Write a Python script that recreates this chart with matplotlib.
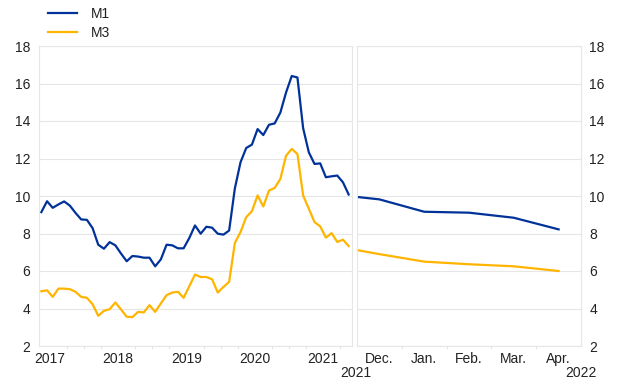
import matplotlib
matplotlib.use("Agg")
import matplotlib.pyplot as plt

plt.rcParams['font.family'] = ['Liberation Sans', 'DejaVu Sans']

# monthly history, May 2017 - Nov 2021 (annual % change)
m1_hist = [9.14, 9.72, 9.37, 9.55, 9.71, 9.49, 9.10, 8.75,
           8.73, 8.29, 7.40, 7.19, 7.54, 7.37, 6.93, 6.52, 6.80, 6.77, 6.71, 6.71,
           6.25, 6.62, 7.40, 7.37, 7.21, 7.21, 7.76, 8.43, 7.99, 8.36, 8.31, 7.99,
           7.94, 8.16, 10.40, 11.80, 12.56, 12.74, 13.57, 13.25, 13.80, 13.87, 14.45, 15.52,
           16.40, 16.32, 13.62, 12.33, 11.71, 11.74, 11.00, 11.05, 11.09, 10.73, 10.08]
m3_hist = [4.92, 4.97, 4.62, 5.06, 5.06, 5.03, 4.89, 4.62,
           4.57, 4.23, 3.61, 3.88, 3.96, 4.32, 3.95, 3.56, 3.54, 3.82, 3.79, 4.18,
           3.82, 4.27, 4.71, 4.85, 4.89, 4.57, 5.19, 5.81, 5.68, 5.68, 5.56, 4.85,
           5.15, 5.42, 7.49, 8.08, 8.87, 9.19, 10.03, 9.44, 10.29, 10.43, 10.91, 12.15,
           12.51, 12.24, 10.03, 9.32, 8.61, 8.38, 7.78, 8.02, 7.55, 7.67, 7.33]
years = ["2017", "2018", "2019", "2020", "2021"]

# expectations, Nov 2021 (last actual) then Dec 2021 - Apr 2022
months = ["Dec.", "Jan.", "Feb.", "Mar.", "Apr."]
m1_exp = [10.08, 9.82, 9.16, 9.11, 8.84, 8.22]
m3_exp = [7.33, 6.90, 6.50, 6.36, 6.25, 6.00]

blue = "#003299"
yellow = "#ffb400"
grid_c = "#e6e6e6"
txt = "#222222"

fig = plt.figure(figsize=(6.2, 3.87), dpi=100)
ax1 = fig.add_axes([38.5 / 620, 1 - 346 / 387, 313 / 620, 300 / 387])
ax2 = fig.add_axes([357 / 620, 1 - 346 / 387, 224 / 620, 300 / 387])

x1 = list(range(len(m1_hist)))
l1, = ax1.plot(x1, m1_hist, color=blue, lw=1.6, label="M1")
l3, = ax1.plot(x1, m3_hist, color=yellow, lw=1.6, label="M3")

x2 = list(range(-1, len(months)))
ax2.plot(x2, m1_exp, color=blue, lw=1.6)
ax2.plot(x2, m3_exp, color=yellow, lw=1.6)

for ax in (ax1, ax2):
    ax.set_ylim(2, 18)
    ax.set_yticks(range(2, 19, 2))
    ax.grid(axis="y", color=grid_c, lw=0.8)
    ax.set_axisbelow(True)
    for s in ax.spines.values():
        s.set_color(grid_c)
        s.set_linewidth(0.8)
    ax.tick_params(axis="both", which="major", length=0, labelsize=10, colors=txt)
    ax.tick_params(axis="x", which="minor", length=2.5, color=grid_c, width=0.8)

ax1.set_xlim(-0.5, 54.5)
ax1.set_xticks([1.5 + 12 * k for k in range(len(years))])
ax1.set_xticklabels(years)
ax1.set_xticks([7.5 + 3 * k for k in range(-2, 16)], minor=True)
ax1.tick_params(axis="y", pad=6)
ax1.tick_params(axis="x", pad=4)

ax2.set_xlim(-0.5, 4.5)
ax2.set_xticks(range(len(months)))
ax2.set_xticklabels(months)
ax2.set_xticks([0.5, 1.5, 2.5, 3.5], minor=True)
ax2.yaxis.tick_right()
ax2.tick_params(axis="y", pad=6)
ax2.tick_params(axis="x", pad=4)

fig.text(356 / 620, 1 - 373 / 387, "2021", ha="center", va="center", fontsize=10, color=txt)
fig.text(581 / 620, 1 - 373 / 387, "2022", ha="center", va="center", fontsize=10, color=txt)

fig.legend(handles=[l1, l3], loc="upper left", bbox_to_anchor=(48 / 620, 1 - 7 / 387),
           frameon=False, fontsize=10, handlelength=2.1, handletextpad=1.0,
           labelspacing=0.35, borderpad=0, borderaxespad=0, labelcolor=txt)

fig.savefig("out.png", dpi=100)
